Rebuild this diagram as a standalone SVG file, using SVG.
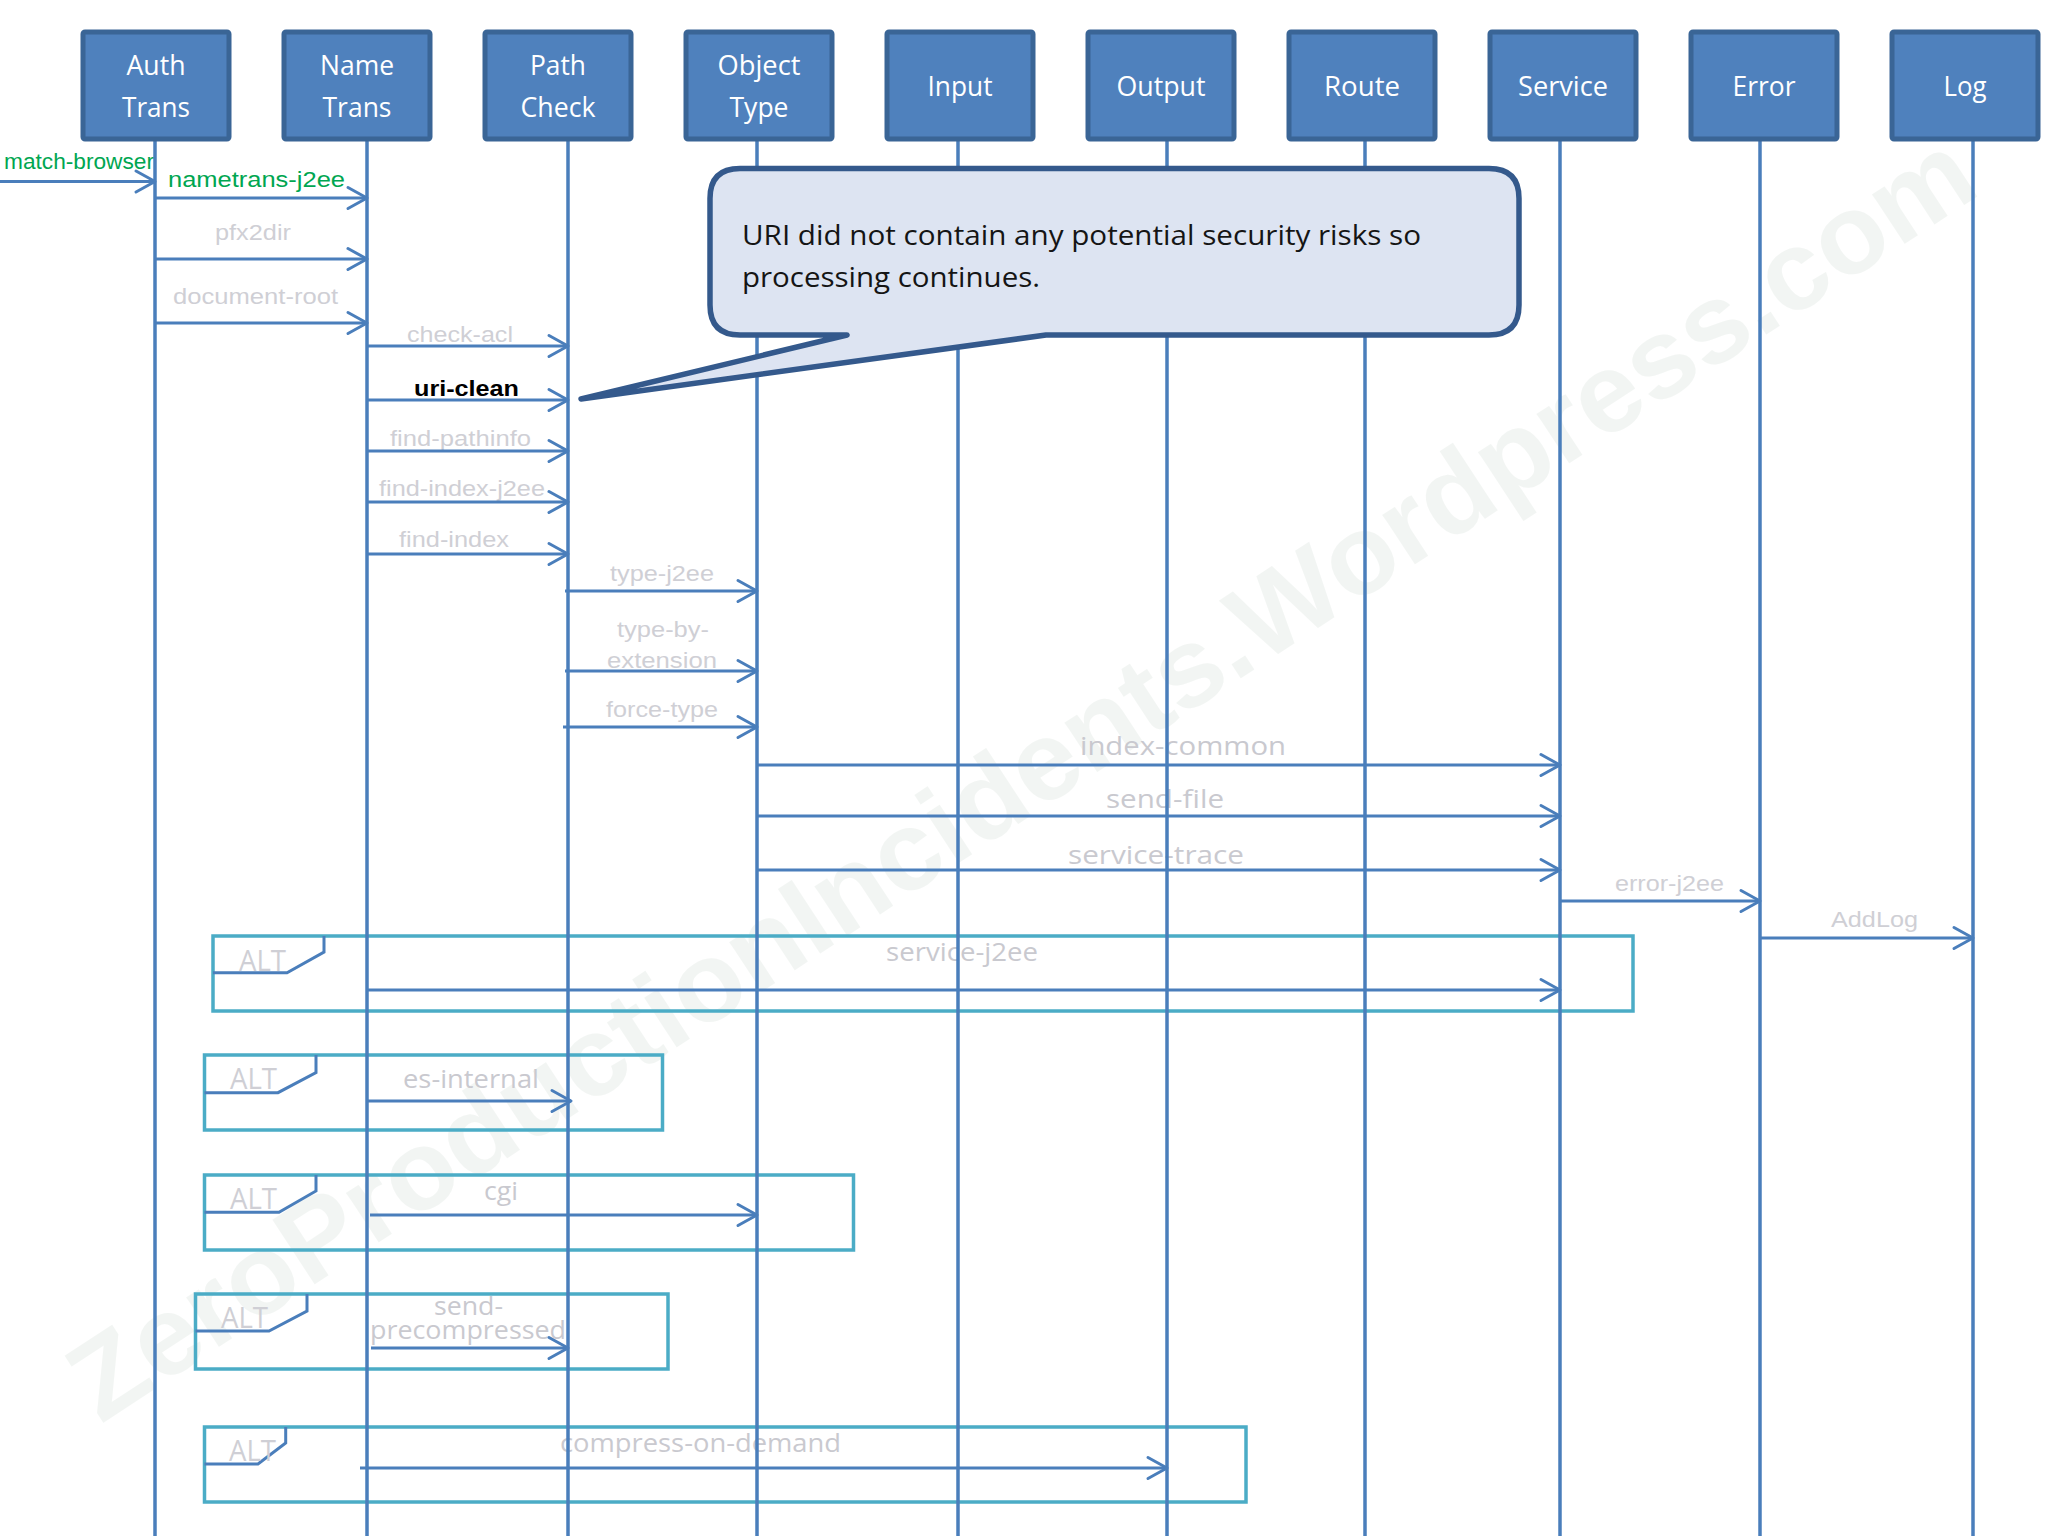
<svg xmlns="http://www.w3.org/2000/svg" width="2048" height="1536" viewBox="0 0 2048 1536">
<defs>
<style>
.hbox{fill:#4f81bd;stroke:#3a6596;stroke-width:5}
.htxt{font-family:"Open Sans","Liberation Sans",sans-serif;font-size:27px;fill:#ffffff;text-anchor:middle}
.life{stroke:#4a7ebb;stroke-width:3.5;fill:none}
.msg{stroke:#4a7ebb;stroke-width:3;fill:none;marker-end:url(#arr)}
.lbl{font-family:"Liberation Sans",Arial,sans-serif;font-size:22px;fill:#cfcfd5}
.lblc{font-family:"Open Sans","Liberation Sans",sans-serif;font-size:26px;fill:#c9c9cf}
.grn{fill:#00a651}
.alt{fill:none;stroke:#4bacc6;stroke-width:3.5}
.tab{fill:none;stroke:#4a7ebb;stroke-width:3}
.alttxt{font-family:"Open Sans","Liberation Sans",sans-serif;font-size:30px;fill:#cfcfd5}
.note{font-family:"Open Sans","Liberation Sans",sans-serif;font-size:28px;fill:#151515}
</style>
<marker id="arr" markerUnits="userSpaceOnUse" markerWidth="30" markerHeight="30" viewBox="-25 -15 30 30" refX="0" refY="0" orient="auto" overflow="visible">
<path d="M-19,-10.5 L0,0 L-19,10.5" fill="none" stroke="#4a7ebb" stroke-width="3" stroke-linejoin="round" stroke-linecap="round"/>
</marker>
</defs>
<rect width="2048" height="1536" fill="#ffffff"/>

<g id="watermark" transform="translate(1020,775) rotate(-33.2)">
<text x="0" y="40" font-family="Liberation Sans, Arial, sans-serif" font-weight="bold" font-size="112" fill="#e4ebe6" opacity="0.45" text-anchor="middle" textLength="2250" lengthAdjust="spacingAndGlyphs">ZeroProductionIncidents.Wordpress.com</text>
</g>

<g id="alt-frames">
<g id="alt1"><rect class="alt" x="213" y="936" width="1420" height="75"/><path class="tab" d="M213,972.7 H287 L324,952 V936"/><text class="alttxt" x="239" y="971" textLength="47" lengthAdjust="spacingAndGlyphs">ALT</text></g>
<g id="alt2"><rect class="alt" x="204.5" y="1055" width="458" height="75"/><path class="tab" d="M204.5,1092.7 H278 L316,1072.7 V1055"/><text class="alttxt" x="230" y="1089" textLength="47" lengthAdjust="spacingAndGlyphs">ALT</text></g>
<g id="alt3"><rect class="alt" x="204.5" y="1175" width="649" height="75"/><path class="tab" d="M204.5,1212.3 H279 L316,1191 V1175"/><text class="alttxt" x="230" y="1209" textLength="47" lengthAdjust="spacingAndGlyphs">ALT</text></g>
<g id="alt4"><rect class="alt" x="195.5" y="1294" width="472.5" height="75"/><path class="tab" d="M195.5,1331 H269 L307,1311 V1294"/><text class="alttxt" x="221" y="1328" textLength="47" lengthAdjust="spacingAndGlyphs">ALT</text></g>
<g id="alt5"><rect class="alt" x="204.5" y="1427" width="1041.5" height="75"/><path class="tab" d="M204.5,1464 H258 L285.7,1443 V1427"/><text class="alttxt" x="229" y="1461" textLength="47" lengthAdjust="spacingAndGlyphs">ALT</text></g>
</g>

<g id="labels">
<text class="lbl grn" x="4" y="169" textLength="150" lengthAdjust="spacingAndGlyphs">match-browser</text>
<text class="lbl grn" x="168" y="187" textLength="177" lengthAdjust="spacingAndGlyphs">nametrans-j2ee</text>
<text class="lbl" x="215" y="240" textLength="76" lengthAdjust="spacingAndGlyphs">pfx2dir</text>
<text class="lbl" x="173" y="304" textLength="165" lengthAdjust="spacingAndGlyphs">document-root</text>
<text class="lbl" x="407" y="342" textLength="106" lengthAdjust="spacingAndGlyphs">check-acl</text>
<text class="lbl" x="414" y="396" textLength="105" lengthAdjust="spacingAndGlyphs" font-weight="bold" style="fill:#000000">uri-clean</text>
<text class="lbl" x="390" y="446" textLength="141" lengthAdjust="spacingAndGlyphs">find-pathinfo</text>
<text class="lbl" x="379" y="496" textLength="166" lengthAdjust="spacingAndGlyphs">find-index-j2ee</text>
<text class="lbl" x="399" y="547" textLength="110" lengthAdjust="spacingAndGlyphs">find-index</text>
<text class="lbl" x="610" y="581" textLength="104" lengthAdjust="spacingAndGlyphs">type-j2ee</text>
<text class="lbl" x="617" y="637" textLength="92" lengthAdjust="spacingAndGlyphs">type-by-</text>
<text class="lbl" x="607" y="668" textLength="110" lengthAdjust="spacingAndGlyphs">extension</text>
<text class="lbl" x="606" y="717" textLength="112" lengthAdjust="spacingAndGlyphs">force-type</text>
<text class="lbl" x="1615" y="891" textLength="109" lengthAdjust="spacingAndGlyphs">error-j2ee</text>
<text class="lbl" x="1831" y="927" textLength="87" lengthAdjust="spacingAndGlyphs">AddLog</text>
<text class="lblc" x="1080" y="755" textLength="206" lengthAdjust="spacingAndGlyphs">index-common</text>
<text class="lblc" x="1106" y="808" textLength="118" lengthAdjust="spacingAndGlyphs">send-file</text>
<text class="lblc" x="1068" y="864" textLength="176" lengthAdjust="spacingAndGlyphs">service-trace</text>
<text class="lblc" x="886" y="961" textLength="152" lengthAdjust="spacingAndGlyphs">service-j2ee</text>
<text class="lblc" x="403" y="1088" textLength="136" lengthAdjust="spacingAndGlyphs">es-internal</text>
<text class="lblc" x="484" y="1200" textLength="34" lengthAdjust="spacingAndGlyphs">cgi</text>
<text class="lblc" x="434" y="1315" textLength="69" lengthAdjust="spacingAndGlyphs">send-</text>
<text class="lblc" x="370" y="1339" textLength="196" lengthAdjust="spacingAndGlyphs">precompressed</text>
<text class="lblc" x="560" y="1452" textLength="281" lengthAdjust="spacingAndGlyphs">compress-on-demand</text>
</g>

<g id="lifelines">
<line class="life" x1="155" y1="139" x2="155" y2="1536"/>
<line class="life" x1="367" y1="139" x2="367" y2="1536"/>
<line class="life" x1="568" y1="139" x2="568" y2="1536"/>
<line class="life" x1="757" y1="139" x2="757" y2="1536"/>
<line class="life" x1="958" y1="139" x2="958" y2="1536"/>
<line class="life" x1="1167" y1="139" x2="1167" y2="1536"/>
<line class="life" x1="1365" y1="139" x2="1365" y2="1536"/>
<line class="life" x1="1560" y1="139" x2="1560" y2="1536"/>
<line class="life" x1="1760" y1="139" x2="1760" y2="1536"/>
<line class="life" x1="1973" y1="139" x2="1973" y2="1536"/>
</g>

<g id="connectors">
<line class="msg" x1="0" y1="181.5" x2="155" y2="181.5"/>
<line class="msg" x1="155" y1="198" x2="367" y2="198"/>
<line class="msg" x1="155" y1="259" x2="367" y2="259"/>
<line class="msg" x1="155" y1="323" x2="367" y2="323"/>
<line class="msg" x1="367" y1="346" x2="568" y2="346"/>
<line class="msg" x1="367" y1="400" x2="568" y2="400"/>
<line class="msg" x1="367" y1="451" x2="568" y2="451"/>
<line class="msg" x1="367" y1="502" x2="568" y2="502"/>
<line class="msg" x1="367" y1="554" x2="568" y2="554"/>
<line class="msg" x1="565" y1="591" x2="757" y2="591"/>
<line class="msg" x1="565" y1="671" x2="757" y2="671"/>
<line class="msg" x1="563" y1="727" x2="757" y2="727"/>
<line class="msg" x1="757" y1="765" x2="1560" y2="765"/>
<line class="msg" x1="757" y1="816" x2="1560" y2="816"/>
<line class="msg" x1="757" y1="870" x2="1560" y2="870"/>
<line class="msg" x1="1560" y1="901" x2="1760" y2="901"/>
<line class="msg" x1="1760" y1="938" x2="1973" y2="938"/>
<line class="msg" x1="367" y1="990" x2="1560" y2="990"/>
<line class="msg" x1="368" y1="1101" x2="571" y2="1101"/>
<line class="msg" x1="370" y1="1215" x2="757" y2="1215"/>
<line class="msg" x1="371" y1="1348" x2="568" y2="1348"/>
<line class="msg" x1="360" y1="1468" x2="1167" y2="1468"/>
</g>

<g id="n-auth"><rect class="hbox" x="83" y="32" width="146" height="107" rx="2"/><text class="htxt" x="156" y="75" textLength="59" lengthAdjust="spacingAndGlyphs">Auth</text><text class="htxt" x="156" y="117" textLength="68" lengthAdjust="spacingAndGlyphs">Trans</text></g>
<g id="n-name"><rect class="hbox" x="284" y="32" width="146" height="107" rx="2"/><text class="htxt" x="357" y="75" textLength="74" lengthAdjust="spacingAndGlyphs">Name</text><text class="htxt" x="357" y="117" textLength="69" lengthAdjust="spacingAndGlyphs">Trans</text></g>
<g id="n-path"><rect class="hbox" x="485" y="32" width="146" height="107" rx="2"/><text class="htxt" x="558" y="75" textLength="56" lengthAdjust="spacingAndGlyphs">Path</text><text class="htxt" x="558" y="117" textLength="75" lengthAdjust="spacingAndGlyphs">Check</text></g>
<g id="n-object"><rect class="hbox" x="686" y="32" width="146" height="107" rx="2"/><text class="htxt" x="759" y="75" textLength="83" lengthAdjust="spacingAndGlyphs">Object</text><text class="htxt" x="759" y="117" textLength="59" lengthAdjust="spacingAndGlyphs">Type</text></g>
<g id="n-input"><rect class="hbox" x="887" y="32" width="146" height="107" rx="2"/><text class="htxt" x="960" y="96" textLength="65" lengthAdjust="spacingAndGlyphs">Input</text></g>
<g id="n-output"><rect class="hbox" x="1088" y="32" width="146" height="107" rx="2"/><text class="htxt" x="1161" y="96" textLength="89" lengthAdjust="spacingAndGlyphs">Output</text></g>
<g id="n-route"><rect class="hbox" x="1289" y="32" width="146" height="107" rx="2"/><text class="htxt" x="1362" y="96" textLength="76" lengthAdjust="spacingAndGlyphs">Route</text></g>
<g id="n-service"><rect class="hbox" x="1490" y="32" width="146" height="107" rx="2"/><text class="htxt" x="1563" y="96" textLength="90" lengthAdjust="spacingAndGlyphs">Service</text></g>
<g id="n-error"><rect class="hbox" x="1691" y="32" width="146" height="107" rx="2"/><text class="htxt" x="1764" y="96" textLength="63" lengthAdjust="spacingAndGlyphs">Error</text></g>
<g id="n-log"><rect class="hbox" x="1892" y="32" width="146" height="107" rx="2"/><text class="htxt" x="1965" y="96" textLength="43" lengthAdjust="spacingAndGlyphs">Log</text></g>

<g id="callout">
<path d="M740,168.5 H1489 Q1519,168.5 1519,198.5 V305 Q1519,335 1489,335 H1046 L581,399 L847,335 H740 Q710,335 710,305 V198.5 Q710,168.5 740,168.5 Z" fill="#dde4f2" stroke="#34598c" stroke-width="5.5" stroke-linejoin="round"/>
<text class="note" x="742" y="245" textLength="679" lengthAdjust="spacingAndGlyphs">URI did not contain any potential security risks so</text>
<text class="note" x="742" y="287" textLength="298" lengthAdjust="spacingAndGlyphs">processing continues.</text>
</g>
</svg>
